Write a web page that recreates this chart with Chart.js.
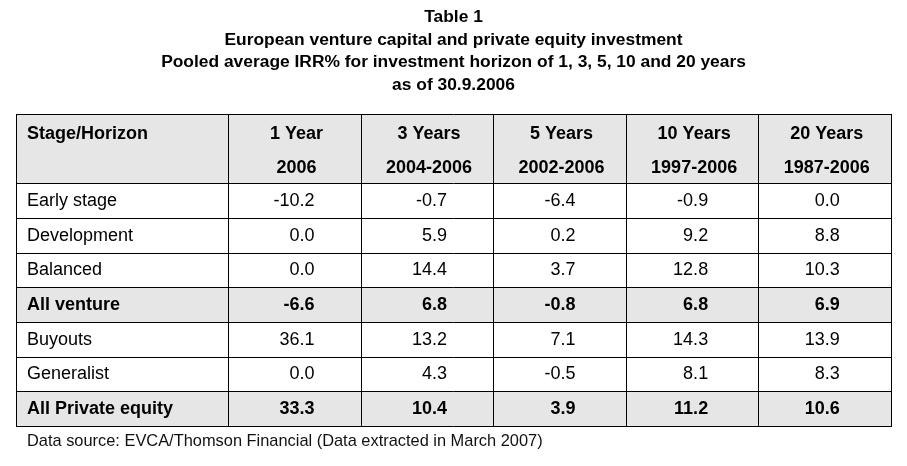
<!DOCTYPE html>
<html>
<head>
<meta charset="utf-8">
<script src="https://cdn.jsdelivr.net/npm/chart.js@4"></script>
<style>
  html, body { margin: 0; padding: 0; background: #fff; }
  #wrap { width: 907px; height: 466px; }
</style>
</head>
<body>
<div id="wrap"><canvas id="tbl"></canvas></div>
<script>
// Données du tableau
const titleLines = [
    'Table 1',
    'European venture capital and private equity investment',
    'Pooled average IRR% for investment horizon of 1, 3, 5, 10 and 20 years',
    'as of 30.9.2006'
];
const headerTop = ['Stage/Horizon', '1 Year', '3 Years', '5 Years', '10 Years', '20 Years'];
const headerBottom = ['', '2006', '2004-2006', '2002-2006', '1997-2006', '1987-2006'];
const stages = ['Early stage', 'Development', 'Balanced', 'All venture', 'Buyouts', 'Generalist', 'All Private equity'];
const irr1y  = [-10.2, 0.0, 0.0, -6.6, 36.1, 0.0, 33.3];
const irr3y  = [-0.7, 5.9, 14.4, 6.8, 13.2, 4.3, 10.4];
const irr5y  = [-6.4, 0.2, 3.7, -0.8, 7.1, -0.5, 3.9];
const irr10y = [-0.9, 9.2, 12.8, 6.8, 14.3, 8.1, 11.2];
const irr20y = [0.0, 8.8, 10.3, 6.9, 13.9, 8.3, 10.6];
const totalRows = ['All venture', 'All Private equity'];
const sourceNote = 'Data source: EVCA/Thomson Financial (Data extracted in March 2007)';

// Mise en page (unités des échelles : colonnes en x, lignes en y)
const colEdges = [0, 1.6, 2.6, 3.6, 4.6, 5.6, 6.6];
const numShift = [20, 20, 16, 16, 15];   // décalage du bord droit des nombres par rapport au centre
const headerRows = 2;
const FONT = '"Liberation Sans", Arial, sans-serif';
const GREY = '#e6e6e6';

const series = [irr1y, irr3y, irr5y, irr10y, irr20y];

// Plugin qui dessine les cellules à partir des échelles x / y
const tablePlugin = {
    id: 'tableDraw',
    beforeDatasetsDraw(chart) {
        const { ctx, scales: { x, y } } = chart;
        const px = v => Math.round(x.getPixelForValue(v));
        const py = v => Math.round(y.getPixelForValue(v));
        const left = px(colEdges[0]), right = px(colEdges[colEdges.length - 1]);
        const nRows = headerRows + stages.length;

        ctx.save();
        // fonds gris : en-tête + lignes de total
        ctx.fillStyle = GREY;
        ctx.fillRect(left, py(0), right - left, py(headerRows) - py(0));
        stages.forEach((s, i) => {
            if (totalRows.includes(s)) {
                const r = headerRows + i;
                ctx.fillRect(left, py(r), right - left, py(r + 1) - py(r));
            }
        });

        // textes
        ctx.fillStyle = '#000';
        ctx.textBaseline = 'middle';
        const padL = 11;

        ctx.font = 'bold 18px ' + FONT;
        ctx.textAlign = 'left';
        ctx.fillText(headerTop[0], px(colEdges[0]) + padL, y.getPixelForValue(0.57));
        ctx.textAlign = 'center';
        for (let c = 1; c < headerTop.length; c++) {
            const cx = (x.getPixelForValue(colEdges[c]) + x.getPixelForValue(colEdges[c + 1])) / 2 + 2;
            ctx.fillText(headerTop[c], cx, y.getPixelForValue(0.57));
            ctx.fillText(headerBottom[c], cx, y.getPixelForValue(1.57));
        }

        stages.forEach((s, i) => {
            const bold = totalRows.includes(s);
            ctx.font = (bold ? 'bold ' : '') + '18px ' + FONT;
            const cy = y.getPixelForValue(headerRows + i + 0.5) + 0.5;
            ctx.textAlign = 'left';
            ctx.fillText(s, px(colEdges[0]) + padL, cy);
            ctx.textAlign = 'right';
            series.forEach((vals, c) => {
                const cx = (x.getPixelForValue(colEdges[c + 1]) + x.getPixelForValue(colEdges[c + 2])) / 2;
                ctx.fillText(vals[i].toFixed(1), cx + numShift[c], cy);
            });
        });

        // bordures
        ctx.strokeStyle = '#000';
        ctx.lineWidth = 1;
        ctx.beginPath();
        ctx.moveTo(left, py(0) + 0.5); ctx.lineTo(right, py(0) + 0.5);
        for (let r = headerRows; r <= nRows; r++) {
            const yy = py(r) + 0.5;
            ctx.moveTo(left, yy); ctx.lineTo(right, yy);
        }
        colEdges.forEach(e => {
            const xx = px(e) + 0.5;
            ctx.moveTo(xx, py(0)); ctx.lineTo(xx, py(nRows) + 1);
        });
        ctx.stroke();

        // note de source
        ctx.font = '16.4px ' + FONT;
        ctx.fillStyle = '#111';
        ctx.textAlign = 'left';
        ctx.fillText(sourceNote, px(colEdges[0]) + padL, py(nRows) + 15);
        ctx.restore();
    }
};

new Chart(document.getElementById('tbl').getContext('2d'), {
    type: 'scatter',
    data: { datasets: [] },
    options: {
        responsive: true,
        maintainAspectRatio: false,
        animation: false,
        events: [],
        layout: { padding: { left: 16, right: 16, top: 0, bottom: 40 } },
        plugins: {
            legend: { display: false },
            tooltip: { enabled: false },
            title: {
                display: true,
                text: titleLines,
                color: '#000',
                font: { family: FONT, size: 17.4, weight: 'bold', lineHeight: 1.3 },
                padding: { top: 6, bottom: 17.5 }
            }
        },
        scales: {
            x: { type: 'linear', display: false, min: colEdges[0], max: colEdges[colEdges.length - 1] },
            y: { type: 'linear', display: false, reverse: true, min: 0, max: headerRows + stages.length }
        }
    },
    plugins: [tablePlugin]
});
</script>
</body>
</html>
